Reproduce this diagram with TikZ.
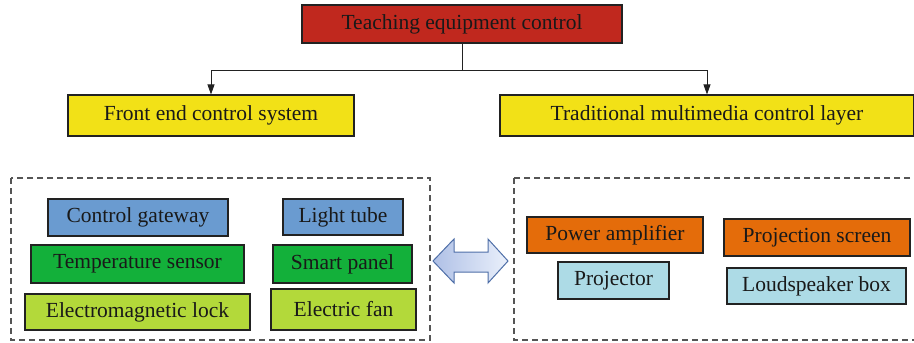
\documentclass[tikz,border=0pt]{standalone}
\usepackage{fontspec}
\setmainfont{Liberation Serif}
\usetikzlibrary{arrows.meta}
\definecolor{cred}{HTML}{C0281E}
\definecolor{cyel}{HTML}{F2E117}
\definecolor{cblue}{HTML}{6A9BD0}
\definecolor{cgreen}{HTML}{13B03A}
\definecolor{clime}{HTML}{B3D93A}
\definecolor{corange}{HTML}{E46C0A}
\definecolor{clblue}{HTML}{ADDBE6}
\definecolor{cline}{HTML}{222222}
\definecolor{cdash}{HTML}{555555}
\definecolor{carrowL}{HTML}{AFC0E6}
\definecolor{carrowR}{HTML}{EAF0FB}
\definecolor{carrowB}{HTML}{4F6FA8}
\tikzset{
  box/.style={draw=cline, line width=1.1pt, inner sep=0pt, text=black!90,
    font=\fontsize{21.5}{23}\selectfont},
  grp/.style={draw=cdash, line width=1.2pt, dash pattern=on 6pt off 4pt},
  conn/.style={draw=cline, line width=0.9pt},
  tip/.style={-{Triangle[length=10pt,width=7pt]}}
}
\begin{document}
\begin{tikzpicture}[x=1pt,y=-1pt]
\useasboundingbox (0,0) rectangle (914,343);
\clip (0,0) rectangle (914,343);
% top
\node[box, fill=cred, minimum width=320pt, minimum height=38pt] (top) at (462,24) {Teaching equipment control};
\node[box, fill=cyel, minimum width=286pt, minimum height=41pt] (front) at (211,115.5) {Front end control system};
\node[box, fill=cyel, minimum width=414pt, minimum height=41pt] (trad) at (707,115.5) {Traditional multimedia control layer};
\coordinate (split) at (462,70);
\draw[conn] (top.south) -- (split);
\draw[conn, tip] (split) -| (front.north);
\draw[conn, tip] (split) -| (trad.north);
% groups
\draw[grp] (11,178) rectangle (430,340);
\draw[grp] (514,178) rectangle (930,340);
% left items
\node[box, fill=cblue, minimum width=180pt, minimum height=37pt] (gw) at (138,217.5) {Control gateway};
\node[box, fill=cblue, minimum width=120pt, minimum height=36pt] (lt) at (343,217) {Light tube};
\node[box, fill=cgreen, minimum width=213pt, minimum height=38pt] (ts) at (137.5,264) {Temperature sensor};
\node[box, fill=cgreen, minimum width=139pt, minimum height=38pt] (sp) at (342.5,264) {Smart panel};
\node[box, fill=clime, minimum width=225pt, minimum height=36pt] (el) at (137.5,312) {Electromagnetic lock};
\node[box, fill=clime, minimum width=145pt, minimum height=41pt] (ef) at (343.5,309.5) {Electric fan};
% right items
\node[box, fill=corange, minimum width=176pt, minimum height=36pt] (pa) at (615,235) {Power amplifier};
\node[box, fill=corange, minimum width=186pt, minimum height=37pt] (ps) at (817,237.5) {Projection screen};
\node[box, fill=clblue, minimum width=111pt, minimum height=37pt] (pj) at (613.5,280.5) {Projector};
\node[box, fill=clblue, minimum width=179pt, minimum height=36pt] (lb) at (816.5,286) {Loudspeaker box};
% double arrow
\draw[draw=carrowB, line width=1pt, left color=carrowL, right color=carrowR, line join=miter]
  (433,261) -- (454,239) -- (454,252) -- (488,252) -- (488,239) -- (508,261)
  -- (488,283) -- (488,272) -- (454,272) -- (454,283) -- cycle;
\end{tikzpicture}
\end{document}
